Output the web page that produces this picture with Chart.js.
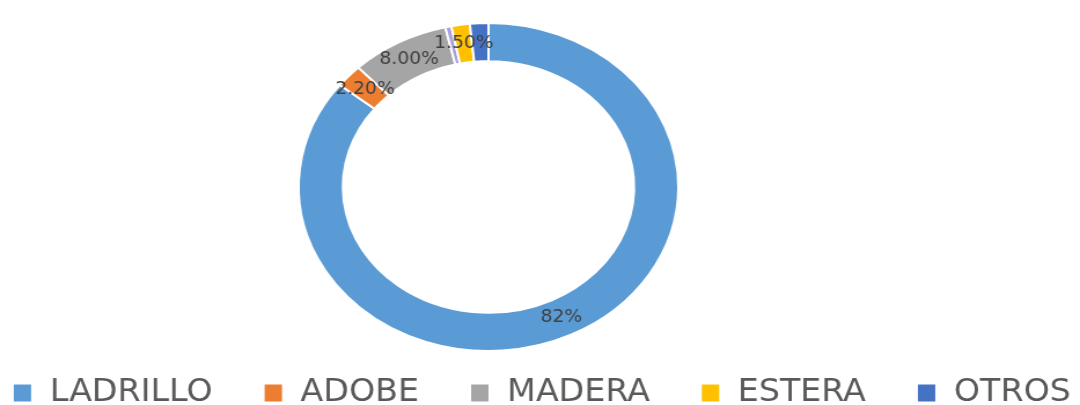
<!DOCTYPE html>
<html>
<head>
<meta charset="utf-8">
<script src="https://cdn.jsdelivr.net/npm/chart.js@4.4.1/dist/chart.umd.min.js"></script>
<style>
  html, body { margin: 0; padding: 0; background: #fff; }
  #chart { display: block; width: 1080px !important; height: 405px !important; }
</style>
</head>
<body>
<!-- drawn 933px wide, css stretches it to 1080 like the original picture -->
<canvas id="chart" width="933" height="405"></canvas>
<script>
const categories = ["LADRILLO", "ADOBE", "MADERA", "", "ESTERA", "OTROS"]
const values = [82, 2.2, 8, 0.5, 1.5, 1.5]
const valueLabels = ["82%", "2.20%", "8.00%", "", "1.50%", ""]
const colors = ["#5B9BD5", "#ED7D31", "#A5A5A5", "#A99FDB", "#FFC000", "#4472C4"]

const fontFamily = '"DejaVu Sans Condensed", "DejaVu Sans", sans-serif'

// where the ring sits (canvas px, before the css stretch)
const plot = { cx: 422, cy: 187, r: 165 }

const placePlot = {
  id: "placePlot",
  afterLayout(chart) {
    const a = chart.chartArea
    a.left = plot.cx - plot.r
    a.right = plot.cx + plot.r
    a.top = plot.cy - plot.r
    a.bottom = plot.cy + plot.r
    a.width = a.right - a.left
    a.height = a.bottom - a.top
  },
}

// percentage text in the middle of each slice
const sliceLabels = {
  id: "sliceLabels",
  afterDatasetsDraw(chart) {
    const ctx = chart.ctx
    const arcs = chart.getDatasetMeta(0).data
    ctx.save()
    ctx.font = `18px ${fontFamily}`
    ctx.fillStyle = "#404040"
    ctx.textAlign = "center"
    ctx.textBaseline = "middle"
    arcs.forEach((arc, i) => {
      if (!valueLabels[i]) return
      const p = arc.getCenterPoint()
      ctx.fillText(valueLabels[i], p.x, p.y)
    })
    ctx.restore()
  },
}

const chart = new Chart(document.querySelector("#chart"), {
  type: "doughnut",
  data: {
    labels: categories,
    datasets: [
      {
        data: values,
        backgroundColor: colors,
        borderColor: "#ffffff",
        borderWidth: 2,
      },
    ],
  },
  options: {
    responsive: false,
    animation: false,
    cutout: "76.7%",
    layout: {
      padding: { left: -50, right: -54, top: 0, bottom: -14 },
    },
    plugins: {
      tooltip: { enabled: false },
      legend: {
        position: "bottom",
        labels: {
          color: "#595959",
          font: { family: fontFamily, size: 32 },
          boxWidth: 15,
          boxHeight: 17,
          padding: 45,
          generateLabels(chart) {
            return Chart.overrides.doughnut.plugins.legend.labels
              .generateLabels(chart)
              .filter((item) => item.text)
              .map((item) => ({ ...item, lineWidth: 0 }))
          },
        },
      },
    },
  },
  plugins: [placePlot, sliceLabels],
})
</script>
</body>
</html>
